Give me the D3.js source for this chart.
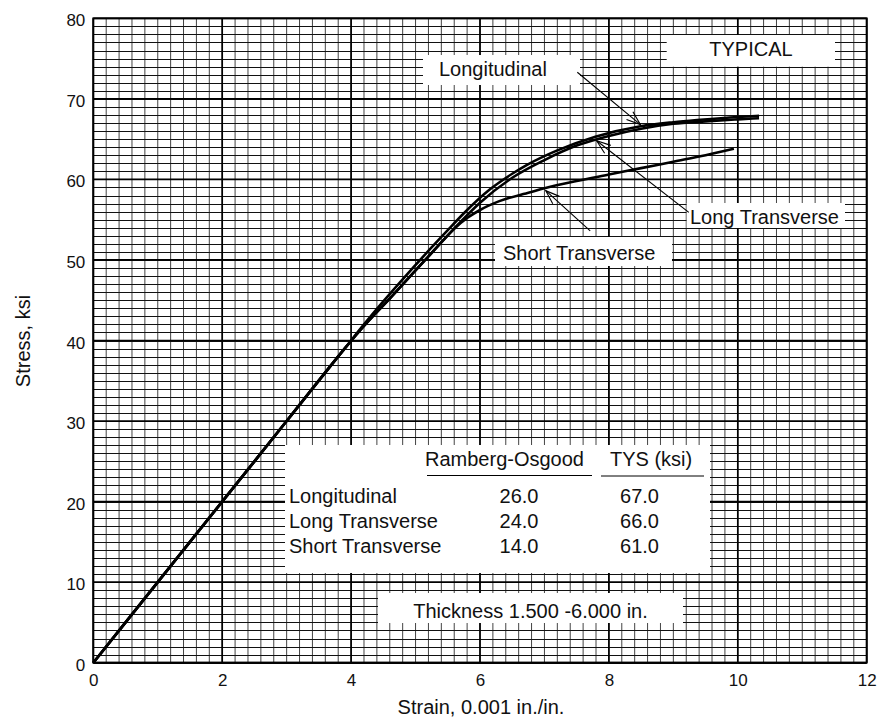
<!DOCTYPE html>
<html><head><meta charset="utf-8">
<script src="https://cdn.jsdelivr.net/npm/d3@7"></script>
<style>
body{margin:0;background:#fff}
text{font-family:Arial,"Liberation Sans",Helvetica,sans-serif;fill:#111}
</style>
</head><body>
<svg id="chart" width="879" height="722"></svg>
<script>
// ---- data ----
const xTickValues = [0, 2, 4, 6, 8, 10, 12];
const yTickValues = [0, 10, 20, 30, 40, 50, 60, 70, 80];

const strainLong = [0, 1, 2, 3, 3.9, 4.2, 4.45, 4.8, 5.15, 5.5, 5.75, 6.16, 6.5, 6.73, 7.2, 7.79, 8.49, 9.0, 9.42, 10.0, 10.33];
const stressLong = [0, 10, 20, 30, 39, 42.0, 44.4, 47.6, 50.7, 53.7, 55.8, 58.8, 60.7, 61.8, 63.6, 65.3, 66.6, 67.1, 67.4, 67.75, 67.9];

const strainLT = [0, 1, 2, 3, 3.9, 4.2, 4.61, 5.0, 5.3, 5.6, 6.0, 6.5, 7.0, 7.5, 8.0, 8.5, 9.0, 9.5, 10.0, 10.33];
const stressLT = [0, 10, 20, 30, 39, 41.8, 45.3, 48.7, 51.3, 53.9, 57.1, 60.2, 62.4, 64.2, 65.4, 66.3, 66.9, 67.2, 67.45, 67.6];

const strainST = [0, 1, 2, 3, 3.9, 4.2, 4.61, 5.0, 5.3, 5.59, 5.8, 6.0, 6.3, 6.78, 7.0, 7.5, 8.0, 8.5, 9.0, 9.5, 9.94];
const stressST = [0, 10, 20, 30, 39, 41.8, 45.3, 48.7, 51.3, 53.8, 55.2, 56.2, 57.3, 58.4, 58.9, 59.8, 60.6, 61.4, 62.2, 63.0, 63.8];

const tableRows = ["Longitudinal", "Long Transverse", "Short Transverse"];
const roValues = ["26.0", "24.0", "14.0"];
const tysValues = ["67.0", "66.0", "61.0"];

// ---- scales ----
const svg = d3.select("#chart");
const x = d3.scaleLinear().domain([0, 12]).range([93.3, 866.7]);
const y = d3.scaleLinear().domain([0, 80]).range([662.7, 18.3]);

// ---- grid ----
const grid = svg.append("g");
const vMinor = d3.range(0, 12.0001, 0.2);
const hMinor = d3.range(0, 80.0001, 1);
grid.selectAll(".vm").data(vMinor).join("line")
  .attr("x1", d => x(d)).attr("x2", d => x(d))
  .attr("y1", y(0)).attr("y2", y(80))
  .attr("stroke", "#444").attr("stroke-width", 1);
grid.selectAll(".hm").data(hMinor).join("line")
  .attr("y1", d => Math.round(y(d)) + 0.5).attr("y2", d => Math.round(y(d)) + 0.5)
  .attr("x1", x(0)).attr("x2", x(12))
  .attr("stroke", "#111").attr("stroke-width", 1);
grid.selectAll(".vM").data(xTickValues).join("line")
  .attr("x1", d => x(d)).attr("x2", d => x(d))
  .attr("y1", y(0)).attr("y2", y(80))
  .attr("stroke", "#000").attr("stroke-width", 1.7);
grid.selectAll(".hM").data(yTickValues).join("line")
  .attr("y1", d => y(d)).attr("y2", d => y(d))
  .attr("x1", x(0)).attr("x2", x(12))
  .attr("stroke", "#000").attr("stroke-width", 1.7);
svg.append("rect").attr("x", x(0)).attr("y", y(80))
  .attr("width", x(12) - x(0)).attr("height", y(0) - y(80))
  .attr("fill", "none").attr("stroke", "#000").attr("stroke-width", 1.8);

// ---- axes labels ----
const xAxis = d3.axisBottom(x).tickValues(xTickValues).tickSize(0).tickPadding(0).tickFormat(d3.format("d"));
const gx = svg.append("g").attr("transform", `translate(0,${y(0)})`).call(xAxis);
gx.select(".domain").remove();
gx.selectAll("text").attr("font-size", 17).attr("dy", null).attr("y", 23.5)
  .style("font-family", "Arial, 'Liberation Sans', sans-serif").attr("fill", "#111");

const yAxis = d3.axisLeft(y).tickValues(yTickValues).tickSize(0).tickPadding(0).tickFormat(d3.format("d"));
const gy = svg.append("g").attr("transform", `translate(${x(0)},0)`).call(yAxis);
gy.select(".domain").remove();
gy.selectAll("text").attr("font-size", 17).attr("dy", null).attr("x", -8).attr("y", 7.5)
  .style("font-family", "Arial, 'Liberation Sans', sans-serif").attr("fill", "#111");

svg.append("text").attr("x", 481).attr("y", 714).attr("text-anchor", "middle")
  .attr("font-size", 20).text("Strain, 0.001 in./in.");
svg.append("text").attr("transform", "translate(30,341) rotate(-90)").attr("text-anchor", "middle")
  .attr("font-size", 20).text("Stress, ksi");

// ---- white label boxes ----
function box(x0, y0, x1, y1) {
  svg.append("rect").attr("x", x0).attr("y", y0).attr("width", x1 - x0).attr("height", y1 - y0).attr("fill", "#fff");
}
box(285, 445, 710, 573);      // table
box(378, 593, 683, 623);      // thickness
box(666.7, 35, 835, 66.7);    // TYPICAL
box(423, 55, 580, 85);        // Longitudinal
box(686.7, 203, 845, 228);    // Long Transverse
box(495, 237, 672, 266);      // Short Transverse

// ---- curves ----
const line = d3.line().x(d => x(d[0])).y(d => y(d[1])).curve(d3.curveMonotoneX);
const series = [
  d3.zip(strainLong, stressLong),
  d3.zip(strainLT, stressLT),
  d3.zip(strainST, stressST)
];
svg.selectAll(".curve").data(series).join("path")
  .attr("d", line).attr("fill", "none").attr("stroke", "#000")
  .attr("stroke-width", 2.6).attr("stroke-linejoin", "round").attr("stroke-linecap", "butt");

// ---- arrows ----
svg.append("defs").append("marker").attr("id", "arr")
  .attr("viewBox", "-15 -7 17 14").attr("refX", 0).attr("refY", 0)
  .attr("markerWidth", 17).attr("markerHeight", 14).attr("markerUnits", "userSpaceOnUse")
  .attr("orient", "auto")
  .append("path").attr("d", "M-14,-5 L0,0 L-14,5").attr("fill", "none")
  .attr("stroke", "#000").attr("stroke-width", 1.1);
const arrows = [
  [[7.51, 73.3], [8.49, 66.8]],
  [[9.24, 55.9], [7.81, 64.8]],
  [[7.71, 53.6], [7.02, 58.6]]
];
svg.selectAll(".arrow").data(arrows).join("line")
  .attr("x1", d => x(d[0][0])).attr("y1", d => y(d[0][1]))
  .attr("x2", d => x(d[1][0])).attr("y2", d => y(d[1][1]))
  .attr("stroke", "#000").attr("stroke-width", 1.1).attr("marker-end", "url(#arr)");

// ---- annotation text ----
svg.append("text").attr("x", 751).attr("y", 56).attr("text-anchor", "middle").attr("font-size", 20).text("TYPICAL");
svg.append("text").attr("x", 439).attr("y", 76).attr("font-size", 20).text("Longitudinal");
svg.append("text").attr("x", 690).attr("y", 223.5).attr("font-size", 20).text("Long Transverse");
svg.append("text").attr("x", 503).attr("y", 260).attr("font-size", 20).text("Short Transverse");
svg.append("text").attr("x", 530.5).attr("y", 617.5).attr("text-anchor", "middle").attr("font-size", 20).text("Thickness 1.500 -6.000 in.");

// ---- table ----
svg.append("text").attr("x", 425).attr("y", 466).attr("font-size", 20).text("Ramberg-Osgood");
svg.append("text").attr("x", 610).attr("y", 466).attr("font-size", 20).text("TYS (ksi)");
svg.append("line").attr("x1", 427).attr("x2", 592).attr("y1", 475.5).attr("y2", 475.5).attr("stroke", "#000").attr("stroke-width", 1);
svg.append("line").attr("x1", 601).attr("x2", 704).attr("y1", 476).attr("y2", 476).attr("stroke", "#000").attr("stroke-width", 1);
const rowY = [503, 527.5, 552.5];
tableRows.forEach((r, i) => {
  svg.append("text").attr("x", 289).attr("y", rowY[i]).attr("font-size", 20).text(r);
  svg.append("text").attr("x", 519).attr("y", rowY[i]).attr("text-anchor", "middle").attr("font-size", 20).text(roValues[i]);
  svg.append("text").attr("x", 639.5).attr("y", rowY[i]).attr("text-anchor", "middle").attr("font-size", 20).text(tysValues[i]);
});
</script>
</body></html>
